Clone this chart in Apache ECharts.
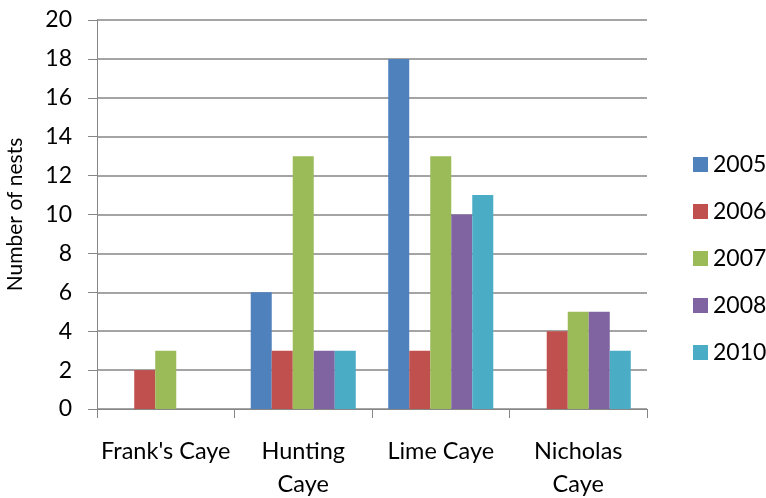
<!DOCTYPE html>
<html><head><meta charset="utf-8">
<script src="https://cdn.jsdelivr.net/npm/echarts@6/dist/echarts.min.js"></script>
<style>html,body{margin:0;padding:0;background:#fff}#c{width:766px;height:498px}</style>
</head><body><div id="c"></div>
<script>
const categories = ["Frank's Caye", "Hunting\nCaye", "Lime Caye", "Nicholas\nCaye"];
const years = ["2005", "2006", "2007", "2008", "2010"];
const v2005 = [0, 6, 18, 0];
const v2006 = [2, 3, 3, 4];
const v2007 = [3, 13, 13, 5];
const v2008 = [0, 3, 10, 5];
const v2010 = [0, 3, 11, 3];
const colors = ["#4F81BD", "#C0504D", "#9BBB59", "#8064A2", "#4BACC6"];
const values = [v2005, v2006, v2007, v2008, v2010];
const font = "Lato, 'Open Sans', sans-serif";
const chart = echarts.init(document.getElementById('c'));
chart.setOption({
  animation: false,
  color: colors,
  grid: {left: 97, right: 119, top: 20, bottom: 89, containLabel: false, outerBoundsMode: 'none'},
  legend: {
    orient: 'vertical', left: 688, top: 148, itemWidth: 15, itemHeight: 15, itemGap: 24,
    textStyle: {fontFamily: font, fontSize: 23, color: '#000'},
    data: years, icon: 'rect'
  },
  xAxis: {
    type: 'category', data: categories,
    axisLine: {lineStyle: {color: '#868686', width: 1}},
    axisTick: {show: true, length: 9, lineStyle: {color: '#868686'}},
    axisLabel: {fontFamily: font, fontSize: 23.5, color: '#000', margin: 26, lineHeight: 33, interval: 0}
  },
  yAxis: {
    type: 'value', min: 0, max: 20, interval: 2,
    name: 'Number of nests', nameLocation: 'middle', nameGap: 71, nameRotate: 90,
    nameTextStyle: {fontFamily: font, fontSize: 21, color: '#000'},
    axisLine: {show: true, lineStyle: {color: '#868686'}},
    axisTick: {show: true, length: 9, lineStyle: {color: '#868686'}},
    axisLabel: {fontFamily: font, fontSize: 23, color: '#000', margin: 25},
    splitLine: {lineStyle: {color: '#868686', width: 1.5}}
  },
  series: years.map((y, i) => ({
    name: y, type: 'bar', data: values[i], barGap: '0%', barCategoryGap: '23.6%',
    itemStyle: {borderWidth: 0}
  }))
});
</script></body></html>
